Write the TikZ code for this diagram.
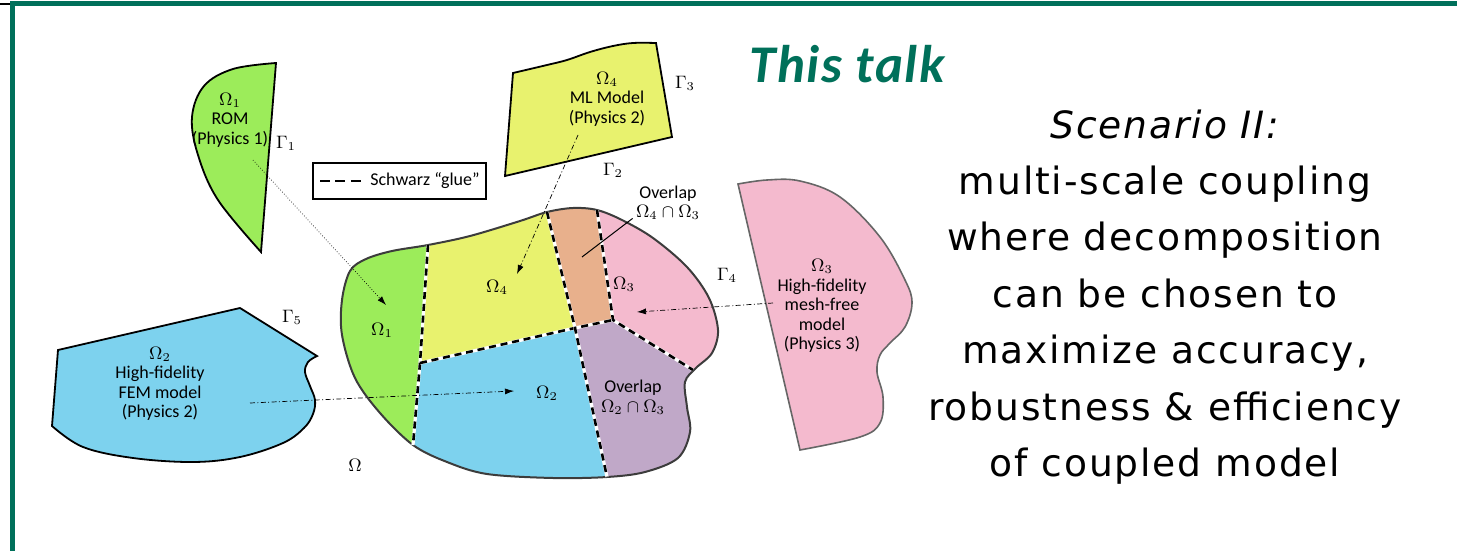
\documentclass[tikz,border=0pt]{standalone}
\usepackage{fontspec}
\setmainfont{Carlito}
\newfontfamily\slidefont[LetterSpace=5]{DejaVu Sans}
\newfontfamily\talkfont[LetterSpace=3]{Carlito}
\usetikzlibrary{arrows.meta}

\definecolor{framegreen}{RGB}{0,112,90}
\definecolor{romgreen}{RGB}{156,236,90}
\definecolor{mlyellow}{RGB}{232,242,110}
\definecolor{femblue}{RGB}{125,210,238}
\definecolor{mfpink}{RGB}{244,186,206}
\definecolor{ovorange}{RGB}{232,176,140}
\definecolor{ovpurple}{RGB}{192,168,200}
\definecolor{edgegray}{RGB}{60,60,60}

% outline of the full domain Omega
\newcommand{\domainpath}{plot[smooth cycle, tension=0.55] coordinates {
  (342,300) (350,271) (366,259) (392,251) (428,245) (470,236) (520,221)
  (547,212) (573,208) (597,210) (622,220) (653,238) (687,267) (709,298)
  (718,330) (712,353) (696,368) (685,382) (687,407) (690,432) (678,458)
  (645,472) (607,477) (553,478) (487,474) (447,462) (413,445) (380,413)
  (355,378) (342,335)}}

\tikzset{
  lbl/.style={font=\fontsize{9}{9.75}\selectfont, align=center, inner sep=0pt},
  piece/.style={line width=0.9pt, draw=black},
  glue/.style={line width=1.3pt, dash pattern=on 3.5pt off 2.4pt,
    preaction={draw=white, solid, line width=1.6pt}},
  link/.style={line width=0.35pt, dash pattern=on 2.5pt off 1.2pt on 0.5pt off 1.2pt,
    -{Latex[length=4.5pt,width=3pt]}},
  dotlink/.style={line width=0.35pt, densely dotted, -{Latex[length=4.5pt,width=3pt]}},
}

\begin{document}
\begin{tikzpicture}[x=0.5pt, y=-0.5pt]
\useasboundingbox (0,0) rectangle (1457,551);

% slide frame
\fill[black] (0,3) rectangle (10,5.5);
\fill[framegreen] (10,1) rectangle (1457,6.5);
\fill[framegreen] (9.5,1) rectangle (15,551);

% ---------- partition coordinates of Omega ----------
\coordinate (t14) at (428,245);
\coordinate (j124) at (420,363);
\coordinate (b12) at (413,445);
\coordinate (t4o) at (547,212);
\coordinate (to3) at (597,210);
\coordinate (jw) at (575,328);
\coordinate (je) at (613,320);
\coordinate (r3) at (693,370);
\coordinate (b2o) at (607,477);

% sub-domain fills, clipped to Omega
\begin{scope}
  \clip \domainpath;
  \fill[romgreen] (300,200) -- (430,200) -- (t14) -- (j124) -- (b12) -- (410,520) -- (300,520) -- cycle;
  \fill[mlyellow] (430,200) -- (t14) -- (j124) -- (jw) -- (t4o) -- (540,183) -- cycle;
  \fill[ovorange] (540,183) -- (t4o) -- (jw) -- (je) -- (to3) -- (592,180) -- cycle;
  \fill[mfpink] (592,180) -- (to3) -- (je) -- (r3) -- (760,410) -- (760,180) -- cycle;
  \fill[ovpurple] (jw) -- (je) -- (r3) -- (760,410) -- (760,520) -- (611,520) -- (b2o) -- cycle;
  \fill[femblue] (j124) -- (jw) -- (b2o) -- (611,520) -- (410,520) -- (b12) -- cycle;
\end{scope}
\draw[edgegray, line width=1pt] \domainpath;

% Schwarz interfaces
\draw[glue] (t14) -- (j124) -- (b12);
\draw[glue] (j124) -- (jw) -- (je);
\draw[glue] (t4o) -- (jw) -- (b2o);
\draw[glue] (to3) -- (je) -- (r3);

% ---------- detached model pieces ----------
% Omega_1 : ROM
\filldraw[piece, fill=romgreen]
  plot[smooth, tension=0.6] coordinates {(276,63) (233,69) (204,86) (192,117) (198,155) (218,200) (261,252)}
  -- cycle;
% Omega_4 : ML model
\filldraw[piece, fill=mlyellow] (505,176)
  -- plot[smooth, tension=0.6] coordinates {(513,73) (547,65) (567,60) (590,52) (613,46) (633,43) (656,43)}
  -- (672,137) -- cycle;
% Omega_2 : FEM model
\filldraw[piece, fill=femblue] (58,350) -- (240,308)
  -- plot[smooth, tension=0.6] coordinates {(317,356) (308,362) (305,372) (310,386) (315,400) (313,414)
    (304,428) (283,443) (240,457) (193,462) (133,458) (83,447) (52,426)}
  -- cycle;
% Omega_3 : mesh-free model
\filldraw[line width=0.8pt, draw=gray!80!black, fill=mfpink]
  plot[smooth, tension=0.6] coordinates {(738,184) (767,180) (800,181) (840,197) (880,237) (905,280)
    (912,303) (905,327) (890,343) (880,355) (877,372) (883,397) (880,423) (860,437) (800,450)}
  -- cycle;

% ---------- labels ----------
\node[lbl] (p1) at (230,120) {$\Omega_1$\\ROM\\(Physics 1)};
\node[lbl] (p4) at (607,99) {$\Omega_4$\\ML Model\\(Physics 2)};
\node[lbl] (p2) at (160,384) {$\Omega_2$\\High-fidelity\\FEM model\\(Physics 2)};
\node[lbl] (p3) at (822,306) {$\Omega_3$\\High-fidelity\\mesh-free\\model\\(Physics 3)};

\node[lbl] (g1) at (286,143) {$\Gamma_1$};
\node[lbl] (g2) at (613,170) {$\Gamma_2$};
\node[lbl] (g3) at (685,83) {$\Gamma_3$};
\node[lbl] (g4) at (727,275) {$\Gamma_4$};
\node[lbl] (g5) at (292,317) {$\Gamma_5$};

\node[lbl] (o1) at (382,330) {$\Omega_1$};
\node[lbl] (o4) at (497,287) {$\Omega_4$};
\node[lbl] (o3) at (624,284) {$\Omega_3$};
\node[lbl] (o2) at (547,393) {$\Omega_2$};
\node[lbl] (om) at (355,465) {$\Omega$};
\node[lbl] (ov43) at (668,203) {Overlap\\$\Omega_4\cap\Omega_3$};
\node[lbl] (ov23) at (633,397) {Overlap\\$\Omega_2\cap\Omega_3$};

% leader line to the upper overlap
\coordinate (ov43pt) at (582,257);
\draw[line width=0.5pt] ([shift={(-3,-2)}]ov43.south west) -- (ov43pt);

% legend
\node[draw, line width=0.8pt, minimum width=86.5pt, minimum height=18pt, inner sep=0pt] (legend) at (399.5,181) {};
\coordinate (legA) at (320,181);
\coordinate (legB) at (363,181);
\draw[line width=0.8pt, dash pattern=on 5pt off 2.7pt] (legA) -- (legB);
\node[lbl] (legtxt) at (425,181) {Schwarz “glue”};

% mapping arrows from the models onto Omega
\coordinate (a1s) at (253,160); \coordinate (a1e) at (386,305);
\coordinate (a4s) at (578,135); \coordinate (a4e) at (517,274);
\coordinate (a2s) at (250,403); \coordinate (a2e) at (514,391);
\coordinate (a3s) at (773,303); \coordinate (a3e) at (637,312);
\draw[dotlink] (a1s) -- (a1e);
\draw[link] (a4s) -- (a4e);
\draw[link] (a2s) -- (a2e);
\draw[link] (a3s) -- (a3e);

% ---------- slide text ----------
\node[anchor=base, text=framegreen, inner sep=0pt,
  font=\talkfont\bfseries\itshape\fontsize{26.5}{30}\selectfont] (talk) at (847,83) {This talk};
\node[align=center, inner sep=0pt,
  font=\slidefont\fontsize{18.8}{28.2}\selectfont] (scenario) at (1165,297)
  {{\itshape Scenario II:}\\multi-scale coupling\\where decomposition\\can be chosen to\\maximize accuracy,\\robustness \& efficiency\\of coupled model};
\end{tikzpicture}
\end{document}
